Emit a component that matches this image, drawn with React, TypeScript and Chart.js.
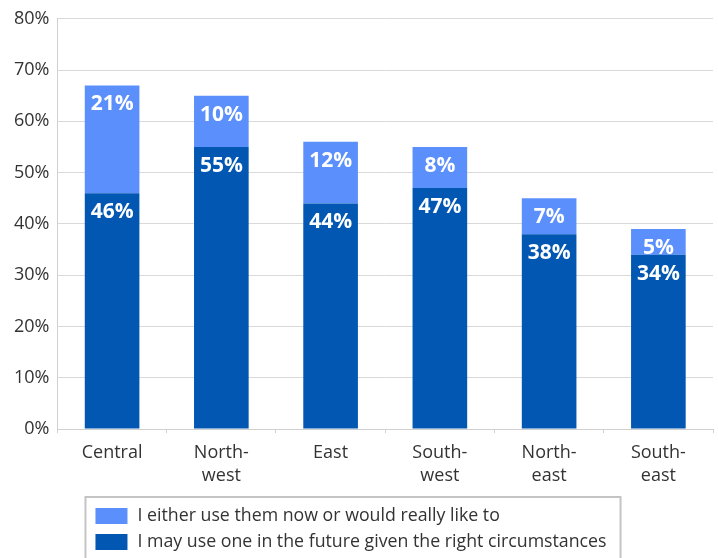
import React, { useEffect, useRef } from "react";
import { Chart, registerables } from "chart.js";

Chart.register(...registerables);

const categories: string[][] = [
  ["Central"],
  ["North-", "west"],
  ["East"],
  ["South-", "west"],
  ["North-", "east"],
  ["South-", "east"],
];
const futureValues = [46, 55, 44, 47, 38, 34];
const nowValues = [21, 10, 12, 8, 7, 5];
const futureLabel = "I may use one in the future given the right circumstances";
const nowLabel = "I either use them now or would really like to";
const DARK = "#0257b3";
const LIGHT = "#5b8ffc";
const FONT = "'Open Sans'";

const valueLabels = {
  id: "valueLabels",
  afterDatasetsDraw(chart: any) {
    const ctx = chart.ctx;
    ctx.save();
    ctx.font = `bold 21px ${FONT}`;
    ctx.fillStyle = "#ffffff";
    ctx.textAlign = "center";
    ctx.textBaseline = "middle";
    chart.data.datasets.forEach((ds: any, di: number) => {
      const meta = chart.getDatasetMeta(di);
      meta.data.forEach((bar: any, i: number) => {
        ctx.fillText(`${ds.data[i]}%`, bar.x, bar.y + 19);
      });
    });
    ctx.restore();
  },
};

const boxLegend = {
  id: "boxLegend",
  afterDraw(chart: any) {
    const ctx = chart.ctx;
    const area = chart.chartArea;
    const items = [...chart.data.datasets].reverse();
    ctx.save();
    ctx.font = `17.75px ${FONT}`;
    const left = area.left + 28;
    const top = area.bottom + 68;
    const textX = left + 52;
    let maxW = 0;
    items.forEach((ds: any) => {
      maxW = Math.max(maxW, ctx.measureText(ds.label).width);
    });
    const right = textX + maxW + 14;
    ctx.strokeStyle = "#c4c4c4";
    ctx.lineWidth = 2;
    ctx.strokeRect(left, top, right - left, 80);
    ctx.textAlign = "left";
    ctx.textBaseline = "middle";
    items.forEach((ds: any, i: number) => {
      const y = top + 11 + i * 26;
      ctx.fillStyle = ds.backgroundColor;
      ctx.fillRect(left + 10, y, 32, 16);
      ctx.fillStyle = "#333333";
      ctx.fillText(ds.label, textX, y + 8);
    });
    ctx.restore();
  },
};

export default function App() {
  const ref = useRef<HTMLCanvasElement>(null);
  useEffect(() => {
    document.body.style.margin = "0";
    const chart = new Chart(ref.current as HTMLCanvasElement, {
      type: "bar",
      data: {
        labels: categories as any,
        datasets: [
          { label: futureLabel, data: futureValues, backgroundColor: DARK, barPercentage: 0.5, categoryPercentage: 1 },
          { label: nowLabel, data: nowValues, backgroundColor: LIGHT, barPercentage: 0.5, categoryPercentage: 1 },
        ],
      },
      options: {
        responsive: false,
        animation: false,
        layout: { padding: { top: 8, right: 5, bottom: 62, left: 6 } },
        plugins: { legend: { display: false }, tooltip: { enabled: false } },
        scales: {
          x: {
            stacked: true,
            grid: { drawOnChartArea: false, tickLength: 4, color: "#d0d0d0" },
            border: { color: "#d0d0d0" },
            ticks: { color: "#333333", font: { family: FONT, size: 18, lineHeight: 1.25 }, padding: 9 },
          },
          y: {
            stacked: true,
            min: 0,
            max: 80,
            grid: { color: "#d9d9d9", drawTicks: false },
            border: { color: "#d0d0d0" },
            ticks: {
              stepSize: 10,
              color: "#333333",
              font: { family: FONT, size: 18 },
              padding: 8,
              callback: (v: any) => `${v}%`,
            },
          },
        },
      },
      plugins: [valueLabels, boxLegend],
    });
    return () => chart.destroy();
  }, []);
  return (
    <div style={{ position: "absolute", left: 0, top: 0, width: 718, height: 558 }}>
      <canvas ref={ref} width={718} height={558} />
    </div>
  );
}
